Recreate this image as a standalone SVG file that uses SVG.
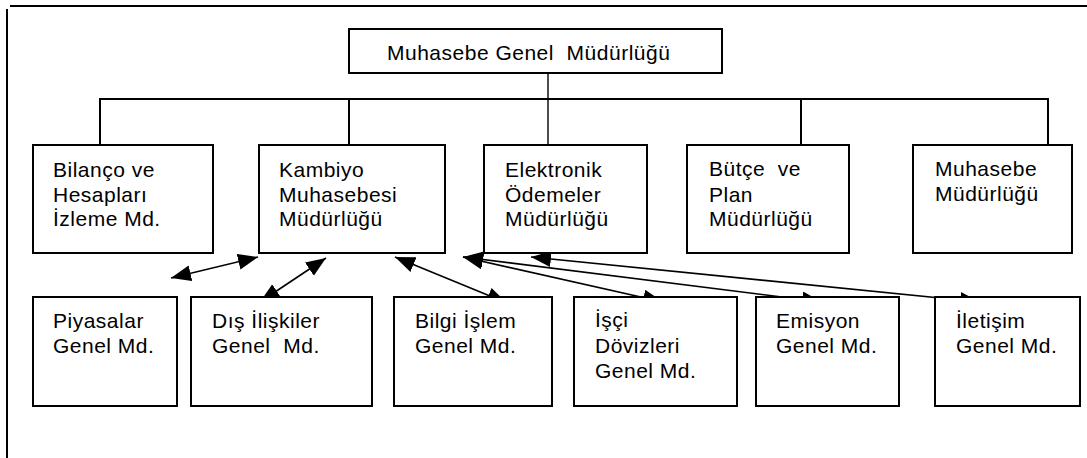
<svg xmlns="http://www.w3.org/2000/svg" width="1087" height="458" viewBox="0 0 1087 458">
<style>
  .box { fill: #ffffff; stroke: #000000; stroke-width: 2; }
  .lbl { font-family: "Liberation Sans", Arial, sans-serif; font-size: 21px; fill: #000000; letter-spacing: 0.5px; white-space: pre; }
  .tree { fill: none; stroke: #000000; stroke-width: 2; }
  .thin { fill: none; stroke: #000000; stroke-width: 1.4; }
  .arr { fill: none; stroke: #000000; stroke-width: 1.6; marker-start: url(#ah); marker-end: url(#ah); }
</style>
<defs>
  <marker id="ah" markerUnits="userSpaceOnUse" markerWidth="21" markerHeight="17" refX="20" refY="8" orient="auto-start-reverse">
    <path d="M0,0 L20,8 L0,16 z" fill="#000000"/>
  </marker>
</defs>
<rect x="0" y="0" width="1087" height="458" fill="#ffffff"/>
<g id="frame">
  <line x1="10" y1="6" x2="1087" y2="6" stroke="#000" stroke-width="2"/>
  <line x1="7" y1="9" x2="7" y2="458" stroke="#000" stroke-width="2"/>
</g>
<g id="connectors">
  <line class="thin" x1="548" y1="73" x2="548" y2="145"/>
  <polyline class="tree" points="100,145 100,99 1048,99 1048,145"/>
  <line class="tree" x1="349" y1="99" x2="349" y2="145"/>
  <line class="tree" x1="801" y1="99" x2="801" y2="145"/>
  <line class="arr" x1="171" y1="278" x2="258" y2="257"/>
  <line class="arr" x1="260" y1="302" x2="326" y2="258"/>
  <line class="arr" x1="395" y1="257" x2="507" y2="303"/>
  <line class="arr" x1="463" y1="257" x2="663" y2="302"/>
  <line class="arr" x1="463" y1="257" x2="822" y2="302"/>
  <line class="arr" x1="531" y1="257" x2="980" y2="302"/>
</g>
<g id="muhasebe-genel">
  <rect class="box" x="349" y="29" width="373" height="44"/>
  <text class="lbl" x="387" y="60" xml:space="preserve">Muhasebe Genel  Müdürlüğü</text>
</g>
<g id="bilanco">
  <rect class="box" x="33" y="145" width="180" height="108"/>
  <text class="lbl" x="53" y="177">Bilanço ve</text>
  <text class="lbl" x="53" y="202">Hesapları</text>
  <text class="lbl" x="53" y="226">İzleme Md.</text>
</g>
<g id="kambiyo">
  <rect class="box" x="259" y="145" width="186" height="108"/>
  <text class="lbl" x="279" y="177">Kambiyo</text>
  <text class="lbl" x="279" y="202">Muhasebesi</text>
  <text class="lbl" x="279" y="226">Müdürlüğü</text>
</g>
<g id="elektronik">
  <rect class="box" x="484" y="145" width="163" height="108"/>
  <text class="lbl" x="505" y="177">Elektronik</text>
  <text class="lbl" x="505" y="202">Ödemeler</text>
  <text class="lbl" x="505" y="226">Müdürlüğü</text>
</g>
<g id="butce">
  <rect class="box" x="687" y="145" width="162" height="108"/>
  <text class="lbl" x="709" y="176" xml:space="preserve">Bütçe  ve</text>
  <text class="lbl" x="709" y="202">Plan</text>
  <text class="lbl" x="709" y="226">Müdürlüğü</text>
</g>
<g id="muhasebe-md">
  <rect class="box" x="913" y="145" width="159" height="108"/>
  <text class="lbl" x="935" y="176">Muhasebe</text>
  <text class="lbl" x="935" y="201">Müdürlüğü</text>
</g>
<g id="piyasalar">
  <rect class="box" x="33" y="297" width="144" height="109"/>
  <text class="lbl" x="53" y="328">Piyasalar</text>
  <text class="lbl" x="53" y="353">Genel Md.</text>
</g>
<g id="dis-iliskiler">
  <rect class="box" x="191" y="297" width="181" height="109"/>
  <text class="lbl" x="212" y="328">Dış İlişkiler</text>
  <text class="lbl" x="212" y="353" xml:space="preserve">Genel  Md.</text>
</g>
<g id="bilgi-islem">
  <rect class="box" x="394" y="297" width="158" height="109"/>
  <text class="lbl" x="415" y="328">Bilgi İşlem</text>
  <text class="lbl" x="415" y="353">Genel Md.</text>
</g>
<g id="isci">
  <rect class="box" x="574" y="297" width="163" height="109"/>
  <text class="lbl" x="595" y="327">İşçi</text>
  <text class="lbl" x="595" y="353">Dövizleri</text>
  <text class="lbl" x="595" y="378">Genel Md.</text>
</g>
<g id="emisyon">
  <rect class="box" x="756" y="297" width="143" height="109"/>
  <text class="lbl" x="776" y="328">Emisyon</text>
  <text class="lbl" x="776" y="353">Genel Md.</text>
</g>
<g id="iletisim">
  <rect class="box" x="935" y="297" width="145" height="109"/>
  <text class="lbl" x="956" y="328">İletişim</text>
  <text class="lbl" x="956" y="353">Genel Md.</text>
</g>
</svg>
